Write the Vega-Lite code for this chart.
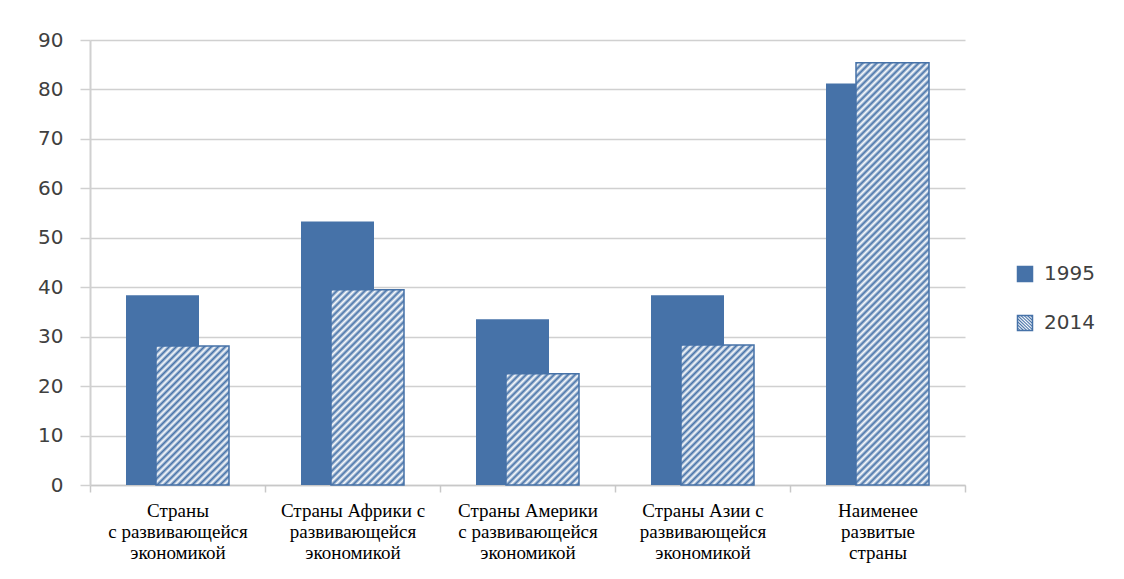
{
  "$schema": "https://vega.github.io/schema/vega-lite/v6.json",
  "width": 875,
  "height": 445,
  "autosize": "none",
  "padding": {"left": 90, "top": 40, "right": 159, "bottom": 94},
  "background": "white",
  "config": {"view": {"stroke": null}},
  "data": {
    "values": [
      {"category": "Страны\nс развивающейся\nэкономикой", "year": "1995", "value": 38.4},
      {"category": "Страны Африки с\nразвивающейся\nэкономикой", "year": "1995", "value": 53.3},
      {"category": "Страны Америки\nс развивающейся\nэкономикой", "year": "1995", "value": 33.5},
      {"category": "Страны Азии с\nразвивающейся\nэкономикой", "year": "1995", "value": 38.4},
      {"category": "Наименее\nразвитые\nстраны", "year": "1995", "value": 81.2},
      {"category": "Страны\nс развивающейся\nэкономикой", "year": "2014", "value": 28.1},
      {"category": "Страны Африки с\nразвивающейся\nэкономикой", "year": "2014", "value": 39.5},
      {"category": "Страны Америки\nс развивающейся\nэкономикой", "year": "2014", "value": 22.5},
      {"category": "Страны Азии с\nразвивающейся\nэкономикой", "year": "2014", "value": 28.3},
      {"category": "Наименее\nразвитые\nстраны", "year": "2014", "value": 85.4}
    ]
  },
  "encoding": {
    "x": {
      "field": "category",
      "type": "nominal",
      "sort": null,
      "scale": {"paddingInner": 0, "paddingOuter": 0},
      "axis": {
        "title": null,
        "labelAngle": 0,
        "tickBand": "extent",
        "tickSize": 7,
        "tickWidth": 1.5,
        "tickColor": "#c8c8c8",
        "domainColor": "#c8c8c8",
        "domainWidth": 1.5,
        "grid": false,
        "labelFont": "Liberation Serif",
        "labelFontSize": 19,
        "labelColor": "#000000",
        "labelLineHeight": 21,
        "labelBaseline": "alphabetic",
        "labelPadding": 24,
        "labelLimit": 220,
        "labelExpr": "split(datum.label, '\\n')",
        "encode": {
          "labels": {
            "dx": {
              "condition": [
                {"test": "indexof(datum.value, 'Африки') >= 0", "value": -3},
                {"test": "indexof(datum.value, 'Америки') >= 0", "value": 0},
                {"test": "indexof(datum.value, 'Азии') >= 0", "value": 15},
                {"test": "indexof(datum.value, 'Наименее') >= 0", "value": 8}
              ],
              "value": -12
            }
          }
        }
      }
    },
    "y": {
      "field": "value",
      "type": "quantitative",
      "stack": null,
      "scale": {"domain": [0, 90], "nice": false},
      "axis": {
        "title": null,
        "values": [0, 10, 20, 30, 40, 50, 60, 70, 80, 90],
        "grid": true,
        "gridColor": "#d0d0d0",
        "gridWidth": 1.5,
        "tickSize": 10,
        "tickColor": "#d0d0d0",
        "tickWidth": 1.5,
        "domainColor": "#d0d0d0",
        "domainWidth": 2,
        "labelFont": "DejaVu Sans",
        "labelFontSize": 20,
        "labelColor": "#404040",
        "labelPadding": 17
      }
    }
  },
  "layer": [
    {
      "transform": [{"filter": "datum.year === '1995'"}],
      "mark": {"type": "bar", "width": 73, "xOffset": -15},
      "encoding": {
        "fill": {
          "field": "year",
          "type": "nominal",
          "scale": {"domain": ["1995"], "range": ["#4672a8"]},
          "legend": {
            "title": null,
            "orient": "none",
            "legendX": 925,
            "legendY": 224,
            "padding": 0,
            "symbolType": "square",
            "symbolSize": 225,
            "symbolStrokeColor": "#4672a8",
            "symbolStrokeWidth": 1.5,
            "labelFont": "DejaVu Sans",
            "labelFontSize": 20,
            "labelColor": "#404040",
            "labelOffset": 9
          }
        }
      }
    },
    {
      "transform": [{"filter": "datum.year === '2014'"}],
      "mark": {"type": "bar", "width": 73, "xOffset": 15, "strokeWidth": 1.5},
      "encoding": {
        "stroke": {
          "field": "year",
          "type": "nominal",
          "scale": {"domain": ["2014"], "range": ["#4672a8"]},
          "legend": {
            "title": null,
            "orient": "none",
            "legendX": 925,
            "legendY": 273,
            "padding": 0,
            "symbolType": "square",
            "symbolSize": 225,
            "symbolStrokeWidth": 1.5,
            "labelFont": "DejaVu Sans",
            "labelFontSize": 20,
            "labelColor": "#404040",
            "labelOffset": 9
          }
        },
        "fill": {
          "condition": [
            {
              "test": "false",
              "value": {"gradient": "linear", "x1": 0, "y1": 0, "x2": 11.667, "y2": 11.667, "stops": [{"offset":0,"color":"#4672a8"},{"offset":0.01,"color":"#fff"},{"offset":0.02,"color":"#4672a8"},{"offset":0.03,"color":"#fff"},{"offset":0.04,"color":"#4672a8"},{"offset":0.05,"color":"#fff"},{"offset":0.06,"color":"#4672a8"},{"offset":0.07,"color":"#fff"},{"offset":0.08,"color":"#4672a8"},{"offset":0.09,"color":"#fff"}]}
            },
            {
              "test": "indexof(datum.category, 'Африки') >= 0",
              "value": {"gradient": "linear", "x1": 0, "y1": 0, "x2": 0.5878, "y2": 1.5724, "stops": [{"offset":0,"color":"#4672a8"},{"offset":0.01,"color":"#fff"},{"offset":0.02,"color":"#4672a8"},{"offset":0.03,"color":"#fff"},{"offset":0.04,"color":"#4672a8"},{"offset":0.05,"color":"#fff"},{"offset":0.06,"color":"#4672a8"},{"offset":0.07,"color":"#fff"},{"offset":0.08,"color":"#4672a8"},{"offset":0.09,"color":"#fff"},{"offset":0.1,"color":"#4672a8"},{"offset":0.11,"color":"#fff"},{"offset":0.12,"color":"#4672a8"},{"offset":0.13,"color":"#fff"},{"offset":0.14,"color":"#4672a8"},{"offset":0.15,"color":"#fff"},{"offset":0.16,"color":"#4672a8"},{"offset":0.17,"color":"#fff"},{"offset":0.18,"color":"#4672a8"},{"offset":0.19,"color":"#fff"},{"offset":0.2,"color":"#4672a8"},{"offset":0.21,"color":"#fff"},{"offset":0.22,"color":"#4672a8"},{"offset":0.23,"color":"#fff"},{"offset":0.24,"color":"#4672a8"},{"offset":0.25,"color":"#fff"},{"offset":0.26,"color":"#4672a8"},{"offset":0.27,"color":"#fff"},{"offset":0.28,"color":"#4672a8"},{"offset":0.29,"color":"#fff"},{"offset":0.3,"color":"#4672a8"},{"offset":0.31,"color":"#fff"},{"offset":0.32,"color":"#4672a8"},{"offset":0.33,"color":"#fff"},{"offset":0.34,"color":"#4672a8"},{"offset":0.35,"color":"#fff"},{"offset":0.36,"color":"#4672a8"},{"offset":0.37,"color":"#fff"},{"offset":0.38,"color":"#4672a8"},{"offset":0.39,"color":"#fff"},{"offset":0.4,"color":"#4672a8"},{"offset":0.41,"color":"#fff"},{"offset":0.42,"color":"#4672a8"},{"offset":0.43,"color":"#fff"},{"offset":0.44,"color":"#4672a8"},{"offset":0.45,"color":"#fff"},{"offset":0.46,"color":"#4672a8"},{"offset":0.47,"color":"#fff"},{"offset":0.48,"color":"#4672a8"},{"offset":0.49,"color":"#fff"},{"offset":0.5,"color":"#4672a8"},{"offset":0.51,"color":"#fff"},{"offset":0.52,"color":"#4672a8"},{"offset":0.53,"color":"#fff"},{"offset":0.54,"color":"#4672a8"},{"offset":0.55,"color":"#fff"},{"offset":0.56,"color":"#4672a8"},{"offset":0.57,"color":"#fff"},{"offset":0.58,"color":"#4672a8"},{"offset":0.59,"color":"#fff"},{"offset":0.6,"color":"#4672a8"},{"offset":0.61,"color":"#fff"},{"offset":0.62,"color":"#4672a8"},{"offset":0.63,"color":"#fff"},{"offset":0.64,"color":"#4672a8"},{"offset":0.65,"color":"#fff"},{"offset":0.66,"color":"#4672a8"},{"offset":0.67,"color":"#fff"},{"offset":0.68,"color":"#4672a8"},{"offset":0.69,"color":"#fff"},{"offset":0.7,"color":"#4672a8"},{"offset":0.71,"color":"#fff"},{"offset":0.72,"color":"#4672a8"},{"offset":0.73,"color":"#fff"},{"offset":0.74,"color":"#4672a8"},{"offset":0.75,"color":"#fff"},{"offset":0.76,"color":"#4672a8"},{"offset":0.77,"color":"#fff"}]}
            },
            {
              "test": "indexof(datum.category, 'Америки') >= 0",
              "value": {"gradient": "linear", "x1": 0, "y1": 0, "x2": 1.4431, "y2": 2.1992, "stops": [{"offset":0,"color":"#4672a8"},{"offset":0.01,"color":"#fff"},{"offset":0.02,"color":"#4672a8"},{"offset":0.03,"color":"#fff"},{"offset":0.04,"color":"#4672a8"},{"offset":0.05,"color":"#fff"},{"offset":0.06,"color":"#4672a8"},{"offset":0.07,"color":"#fff"},{"offset":0.08,"color":"#4672a8"},{"offset":0.09,"color":"#fff"},{"offset":0.1,"color":"#4672a8"},{"offset":0.11,"color":"#fff"},{"offset":0.12,"color":"#4672a8"},{"offset":0.13,"color":"#fff"},{"offset":0.14,"color":"#4672a8"},{"offset":0.15,"color":"#fff"},{"offset":0.16,"color":"#4672a8"},{"offset":0.17,"color":"#fff"},{"offset":0.18,"color":"#4672a8"},{"offset":0.19,"color":"#fff"},{"offset":0.2,"color":"#4672a8"},{"offset":0.21,"color":"#fff"},{"offset":0.22,"color":"#4672a8"},{"offset":0.23,"color":"#fff"},{"offset":0.24,"color":"#4672a8"},{"offset":0.25,"color":"#fff"},{"offset":0.26,"color":"#4672a8"},{"offset":0.27,"color":"#fff"},{"offset":0.28,"color":"#4672a8"},{"offset":0.29,"color":"#fff"},{"offset":0.3,"color":"#4672a8"},{"offset":0.31,"color":"#fff"},{"offset":0.32,"color":"#4672a8"},{"offset":0.33,"color":"#fff"},{"offset":0.34,"color":"#4672a8"},{"offset":0.35,"color":"#fff"},{"offset":0.36,"color":"#4672a8"},{"offset":0.37,"color":"#fff"},{"offset":0.38,"color":"#4672a8"},{"offset":0.39,"color":"#fff"},{"offset":0.4,"color":"#4672a8"},{"offset":0.41,"color":"#fff"},{"offset":0.42,"color":"#4672a8"},{"offset":0.43,"color":"#fff"},{"offset":0.44,"color":"#4672a8"},{"offset":0.45,"color":"#fff"},{"offset":0.46,"color":"#4672a8"},{"offset":0.47,"color":"#fff"},{"offset":0.48,"color":"#4672a8"},{"offset":0.49,"color":"#fff"},{"offset":0.5,"color":"#4672a8"},{"offset":0.51,"color":"#fff"},{"offset":0.52,"color":"#4672a8"},{"offset":0.53,"color":"#fff"},{"offset":0.54,"color":"#4672a8"}]}
            },
            {
              "test": "indexof(datum.category, 'Азии') >= 0",
              "value": {"gradient": "linear", "x1": 0, "y1": 0, "x2": 1.0261, "y2": 1.9664, "stops": [{"offset":0,"color":"#4672a8"},{"offset":0.01,"color":"#fff"},{"offset":0.02,"color":"#4672a8"},{"offset":0.03,"color":"#fff"},{"offset":0.04,"color":"#4672a8"},{"offset":0.05,"color":"#fff"},{"offset":0.06,"color":"#4672a8"},{"offset":0.07,"color":"#fff"},{"offset":0.08,"color":"#4672a8"},{"offset":0.09,"color":"#fff"},{"offset":0.1,"color":"#4672a8"},{"offset":0.11,"color":"#fff"},{"offset":0.12,"color":"#4672a8"},{"offset":0.13,"color":"#fff"},{"offset":0.14,"color":"#4672a8"},{"offset":0.15,"color":"#fff"},{"offset":0.16,"color":"#4672a8"},{"offset":0.17,"color":"#fff"},{"offset":0.18,"color":"#4672a8"},{"offset":0.19,"color":"#fff"},{"offset":0.2,"color":"#4672a8"},{"offset":0.21,"color":"#fff"},{"offset":0.22,"color":"#4672a8"},{"offset":0.23,"color":"#fff"},{"offset":0.24,"color":"#4672a8"},{"offset":0.25,"color":"#fff"},{"offset":0.26,"color":"#4672a8"},{"offset":0.27,"color":"#fff"},{"offset":0.28,"color":"#4672a8"},{"offset":0.29,"color":"#fff"},{"offset":0.3,"color":"#4672a8"},{"offset":0.31,"color":"#fff"},{"offset":0.32,"color":"#4672a8"},{"offset":0.33,"color":"#fff"},{"offset":0.34,"color":"#4672a8"},{"offset":0.35,"color":"#fff"},{"offset":0.36,"color":"#4672a8"},{"offset":0.37,"color":"#fff"},{"offset":0.38,"color":"#4672a8"},{"offset":0.39,"color":"#fff"},{"offset":0.4,"color":"#4672a8"},{"offset":0.41,"color":"#fff"},{"offset":0.42,"color":"#4672a8"},{"offset":0.43,"color":"#fff"},{"offset":0.44,"color":"#4672a8"},{"offset":0.45,"color":"#fff"},{"offset":0.46,"color":"#4672a8"},{"offset":0.47,"color":"#fff"},{"offset":0.48,"color":"#4672a8"},{"offset":0.49,"color":"#fff"},{"offset":0.5,"color":"#4672a8"},{"offset":0.51,"color":"#fff"},{"offset":0.52,"color":"#4672a8"},{"offset":0.53,"color":"#fff"},{"offset":0.54,"color":"#4672a8"},{"offset":0.55,"color":"#fff"},{"offset":0.56,"color":"#4672a8"},{"offset":0.57,"color":"#fff"},{"offset":0.58,"color":"#4672a8"},{"offset":0.59,"color":"#fff"},{"offset":0.6,"color":"#4672a8"},{"offset":0.61,"color":"#fff"},{"offset":0.62,"color":"#4672a8"}]}
            },
            {
              "test": "indexof(datum.category, 'Наименее') >= 0",
              "value": {"gradient": "linear", "x1": 0, "y1": 0, "x2": 0.2782, "y2": 1.6095, "stops": [{"offset":0,"color":"#4672a8"},{"offset":0.005,"color":"#fff"},{"offset":0.01,"color":"#4672a8"},{"offset":0.015,"color":"#fff"},{"offset":0.02,"color":"#4672a8"},{"offset":0.025,"color":"#fff"},{"offset":0.03,"color":"#4672a8"},{"offset":0.035,"color":"#fff"},{"offset":0.04,"color":"#4672a8"},{"offset":0.045,"color":"#fff"},{"offset":0.05,"color":"#4672a8"},{"offset":0.055,"color":"#fff"},{"offset":0.06,"color":"#4672a8"},{"offset":0.065,"color":"#fff"},{"offset":0.07,"color":"#4672a8"},{"offset":0.075,"color":"#fff"},{"offset":0.08,"color":"#4672a8"},{"offset":0.085,"color":"#fff"},{"offset":0.09,"color":"#4672a8"},{"offset":0.095,"color":"#fff"},{"offset":0.1,"color":"#4672a8"},{"offset":0.105,"color":"#fff"},{"offset":0.11,"color":"#4672a8"},{"offset":0.115,"color":"#fff"},{"offset":0.12,"color":"#4672a8"},{"offset":0.125,"color":"#fff"},{"offset":0.13,"color":"#4672a8"},{"offset":0.135,"color":"#fff"},{"offset":0.14,"color":"#4672a8"},{"offset":0.145,"color":"#fff"},{"offset":0.15,"color":"#4672a8"},{"offset":0.155,"color":"#fff"},{"offset":0.16,"color":"#4672a8"},{"offset":0.165,"color":"#fff"},{"offset":0.17,"color":"#4672a8"},{"offset":0.175,"color":"#fff"},{"offset":0.18,"color":"#4672a8"},{"offset":0.185,"color":"#fff"},{"offset":0.19,"color":"#4672a8"},{"offset":0.195,"color":"#fff"},{"offset":0.2,"color":"#4672a8"},{"offset":0.205,"color":"#fff"},{"offset":0.21,"color":"#4672a8"},{"offset":0.215,"color":"#fff"},{"offset":0.22,"color":"#4672a8"},{"offset":0.225,"color":"#fff"},{"offset":0.23,"color":"#4672a8"},{"offset":0.235,"color":"#fff"},{"offset":0.24,"color":"#4672a8"},{"offset":0.245,"color":"#fff"},{"offset":0.25,"color":"#4672a8"},{"offset":0.255,"color":"#fff"},{"offset":0.26,"color":"#4672a8"},{"offset":0.265,"color":"#fff"},{"offset":0.27,"color":"#4672a8"},{"offset":0.275,"color":"#fff"},{"offset":0.28,"color":"#4672a8"},{"offset":0.285,"color":"#fff"},{"offset":0.29,"color":"#4672a8"},{"offset":0.295,"color":"#fff"},{"offset":0.3,"color":"#4672a8"},{"offset":0.305,"color":"#fff"},{"offset":0.31,"color":"#4672a8"},{"offset":0.315,"color":"#fff"},{"offset":0.32,"color":"#4672a8"},{"offset":0.325,"color":"#fff"},{"offset":0.33,"color":"#4672a8"},{"offset":0.335,"color":"#fff"},{"offset":0.34,"color":"#4672a8"},{"offset":0.345,"color":"#fff"},{"offset":0.35,"color":"#4672a8"},{"offset":0.355,"color":"#fff"},{"offset":0.36,"color":"#4672a8"},{"offset":0.365,"color":"#fff"},{"offset":0.37,"color":"#4672a8"},{"offset":0.375,"color":"#fff"},{"offset":0.38,"color":"#4672a8"},{"offset":0.385,"color":"#fff"},{"offset":0.39,"color":"#4672a8"},{"offset":0.395,"color":"#fff"},{"offset":0.4,"color":"#4672a8"},{"offset":0.405,"color":"#fff"},{"offset":0.41,"color":"#4672a8"},{"offset":0.415,"color":"#fff"},{"offset":0.42,"color":"#4672a8"},{"offset":0.425,"color":"#fff"},{"offset":0.43,"color":"#4672a8"},{"offset":0.435,"color":"#fff"},{"offset":0.44,"color":"#4672a8"},{"offset":0.445,"color":"#fff"},{"offset":0.45,"color":"#4672a8"},{"offset":0.455,"color":"#fff"},{"offset":0.46,"color":"#4672a8"},{"offset":0.465,"color":"#fff"},{"offset":0.47,"color":"#4672a8"},{"offset":0.475,"color":"#fff"},{"offset":0.48,"color":"#4672a8"},{"offset":0.485,"color":"#fff"},{"offset":0.49,"color":"#4672a8"},{"offset":0.495,"color":"#fff"},{"offset":0.5,"color":"#4672a8"},{"offset":0.505,"color":"#fff"},{"offset":0.51,"color":"#4672a8"},{"offset":0.515,"color":"#fff"},{"offset":0.52,"color":"#4672a8"},{"offset":0.525,"color":"#fff"},{"offset":0.53,"color":"#4672a8"},{"offset":0.535,"color":"#fff"},{"offset":0.54,"color":"#4672a8"},{"offset":0.545,"color":"#fff"},{"offset":0.55,"color":"#4672a8"},{"offset":0.555,"color":"#fff"},{"offset":0.56,"color":"#4672a8"},{"offset":0.565,"color":"#fff"},{"offset":0.57,"color":"#4672a8"},{"offset":0.575,"color":"#fff"},{"offset":0.58,"color":"#4672a8"},{"offset":0.585,"color":"#fff"},{"offset":0.59,"color":"#4672a8"},{"offset":0.595,"color":"#fff"},{"offset":0.6,"color":"#4672a8"},{"offset":0.605,"color":"#fff"},{"offset":0.61,"color":"#4672a8"},{"offset":0.615,"color":"#fff"},{"offset":0.62,"color":"#4672a8"},{"offset":0.625,"color":"#fff"},{"offset":0.63,"color":"#4672a8"},{"offset":0.635,"color":"#fff"},{"offset":0.64,"color":"#4672a8"},{"offset":0.645,"color":"#fff"},{"offset":0.65,"color":"#4672a8"},{"offset":0.655,"color":"#fff"},{"offset":0.66,"color":"#4672a8"},{"offset":0.665,"color":"#fff"},{"offset":0.67,"color":"#4672a8"},{"offset":0.675,"color":"#fff"},{"offset":0.68,"color":"#4672a8"},{"offset":0.685,"color":"#fff"},{"offset":0.69,"color":"#4672a8"},{"offset":0.695,"color":"#fff"},{"offset":0.7,"color":"#4672a8"},{"offset":0.705,"color":"#fff"},{"offset":0.71,"color":"#4672a8"}]}
            }
          ],
          "value": {"gradient": "linear", "x1": 0, "y1": 0, "x2": 1.0377, "y2": 1.9744, "stops": [{"offset":0,"color":"#4672a8"},{"offset":0.01,"color":"#fff"},{"offset":0.02,"color":"#4672a8"},{"offset":0.03,"color":"#fff"},{"offset":0.04,"color":"#4672a8"},{"offset":0.05,"color":"#fff"},{"offset":0.06,"color":"#4672a8"},{"offset":0.07,"color":"#fff"},{"offset":0.08,"color":"#4672a8"},{"offset":0.09,"color":"#fff"},{"offset":0.1,"color":"#4672a8"},{"offset":0.11,"color":"#fff"},{"offset":0.12,"color":"#4672a8"},{"offset":0.13,"color":"#fff"},{"offset":0.14,"color":"#4672a8"},{"offset":0.15,"color":"#fff"},{"offset":0.16,"color":"#4672a8"},{"offset":0.17,"color":"#fff"},{"offset":0.18,"color":"#4672a8"},{"offset":0.19,"color":"#fff"},{"offset":0.2,"color":"#4672a8"},{"offset":0.21,"color":"#fff"},{"offset":0.22,"color":"#4672a8"},{"offset":0.23,"color":"#fff"},{"offset":0.24,"color":"#4672a8"},{"offset":0.25,"color":"#fff"},{"offset":0.26,"color":"#4672a8"},{"offset":0.27,"color":"#fff"},{"offset":0.28,"color":"#4672a8"},{"offset":0.29,"color":"#fff"},{"offset":0.3,"color":"#4672a8"},{"offset":0.31,"color":"#fff"},{"offset":0.32,"color":"#4672a8"},{"offset":0.33,"color":"#fff"},{"offset":0.34,"color":"#4672a8"},{"offset":0.35,"color":"#fff"},{"offset":0.36,"color":"#4672a8"},{"offset":0.37,"color":"#fff"},{"offset":0.38,"color":"#4672a8"},{"offset":0.39,"color":"#fff"},{"offset":0.4,"color":"#4672a8"},{"offset":0.41,"color":"#fff"},{"offset":0.42,"color":"#4672a8"},{"offset":0.43,"color":"#fff"},{"offset":0.44,"color":"#4672a8"},{"offset":0.45,"color":"#fff"},{"offset":0.46,"color":"#4672a8"},{"offset":0.47,"color":"#fff"},{"offset":0.48,"color":"#4672a8"},{"offset":0.49,"color":"#fff"},{"offset":0.5,"color":"#4672a8"},{"offset":0.51,"color":"#fff"},{"offset":0.52,"color":"#4672a8"},{"offset":0.53,"color":"#fff"},{"offset":0.54,"color":"#4672a8"},{"offset":0.55,"color":"#fff"},{"offset":0.56,"color":"#4672a8"},{"offset":0.57,"color":"#fff"},{"offset":0.58,"color":"#4672a8"},{"offset":0.59,"color":"#fff"},{"offset":0.6,"color":"#4672a8"},{"offset":0.61,"color":"#fff"},{"offset":0.62,"color":"#4672a8"}]}
        }
      }
    }
  ]
}
